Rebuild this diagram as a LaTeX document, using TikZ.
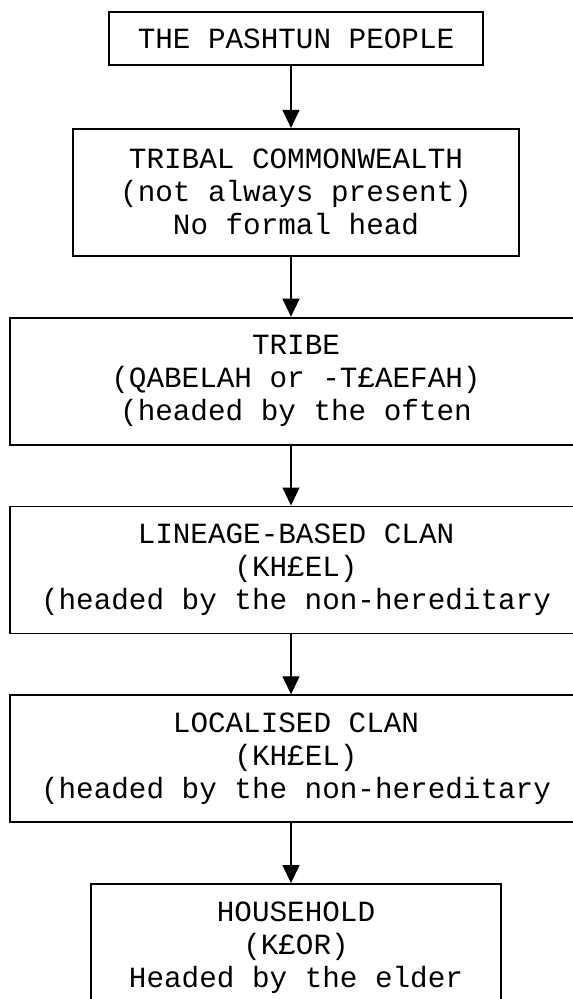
\documentclass[tikz,border=0pt]{standalone}
\usepackage{fontspec}
\newfontfamily\kinfont{Liberation Mono}
\usetikzlibrary{arrows.meta,positioning}

\begin{document}
\begin{tikzpicture}
[x=1pt,y=-1pt,node distance=60pt,
level/.style={draw=black,line width=1.8pt,align=center,minimum height=127pt,
  font=\kinfont\fontsize{29.3pt}{33pt}\selectfont},
down/.style={line width=1.2pt,-{Triangle[length=18pt,width=17pt]}}]
\clip (0,0) rectangle (573,999);
% levels of kinship
\node[level,minimum width=374pt,minimum height=53pt] (people) at (296,38.5) {THE PASHTUN PEOPLE};
\node[level,minimum width=446pt,below=62pt of people] (commonwealth)
  {TRIBAL COMMONWEALTH\\(not always present)\\No formal head};
\node[level,minimum width=572pt,below=of commonwealth] (tribe)
  {TRIBE\\(QABELAH or -T£AEFAH)\\(headed by the often};
\node[level,minimum width=572pt,below=of tribe] (clan)
  {LINEAGE-BASED CLAN\\(KH£EL)\\(headed by the non-hereditary};
\node[level,minimum width=572pt,below=of clan] (local)
  {LOCALISED CLAN\\(KH£EL)\\(headed by the non-hereditary};
\node[level,minimum width=410pt,below=of local] (household)
  {HOUSEHOLD\\(K£OR)\\Headed by the elder};

% descent, a little left of centre
\draw[down] ([xshift=-5pt]people.south) -- ([xshift=-5pt]commonwealth.north);
\draw[down] ([xshift=-5pt]commonwealth.south) -- ([xshift=-5pt]tribe.north);
\draw[down] ([xshift=-5pt]tribe.south) -- ([xshift=-5pt]clan.north);
\draw[down] ([xshift=-5pt]clan.south) -- ([xshift=-5pt]local.north);
\draw[down] ([xshift=-5pt]local.south) -- ([xshift=-5pt]household.north);
\end{tikzpicture}
\end{document}
